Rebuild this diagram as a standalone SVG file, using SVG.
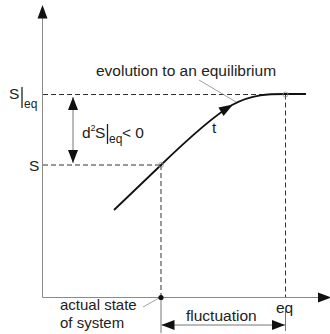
<svg xmlns="http://www.w3.org/2000/svg" width="330" height="334" viewBox="0 0 330 334">
<defs>
<style>
.axis{stroke:#8a8a8a;stroke-width:1;fill:none}
.dash{stroke:#333;stroke-width:1;stroke-dasharray:5,3;fill:none}
.thin{stroke:#888;stroke-width:0.8;fill:none}
.dim{stroke:#777;stroke-width:1;fill:none}
.head{fill:#111;stroke:none}
.curve{stroke:#111;stroke-width:1.8;fill:none}
text{font-family:"Liberation Sans",Arial,sans-serif;fill:#222}
.lbl{font-size:15.5px}
.sm{font-size:15px}
.sub{font-size:12px}
</style>
<marker id="ah" viewBox="0 0 13 10" refX="13" refY="5" markerWidth="13" markerHeight="10" markerUnits="userSpaceOnUse" orient="auto-start-reverse">
<path d="M0,0 L13,5 L0,10 z" class="head"/>
</marker>
</defs>
<g id="connectors">
<line class="axis" x1="42.5" y1="297.5" x2="42.5" y2="15"/>
<path class="head" d="M42.5,5 L37.5,18.5 L47.5,18.5 z"/>
<line class="axis" x1="42.5" y1="297.5" x2="320" y2="297.5"/>
<path class="head" d="M331,297.5 L318,292.5 L318,302.5 z"/>
<line class="dash" x1="43" y1="94.5" x2="285" y2="94.5"/>
<line class="dash" x1="43" y1="165" x2="161" y2="165"/>
<line class="dash" x1="161" y1="165" x2="161" y2="297"/>
<line class="dash" x1="285.5" y1="94.5" x2="285.5" y2="297"/>
<line class="dim" x1="73" y1="97" x2="73" y2="163" marker-start="url(#ah)" marker-end="url(#ah)"/>
<line class="dim" x1="161" y1="298" x2="161" y2="333"/>
<line class="dim" x1="285.5" y1="310" x2="285.5" y2="331"/>
<line class="dim" x1="161.5" y1="325" x2="285" y2="325" marker-start="url(#ah)" marker-end="url(#ah)"/>
<path class="curve" d="M114,210 L161,165 C190,137 212,117 232,105 C252,94 270,94 285,94 L306,94"/>
<path class="head" d="M0,0 L-14,-5 L-14,5 z" transform="translate(233,104.5) rotate(-31)"/>
<line class="thin" x1="199" y1="80" x2="236" y2="102"/>
<line class="thin" x1="143" y1="307" x2="159" y2="298"/>
<circle cx="161" cy="165" r="2.5" fill="none" stroke="#999" stroke-width="0.8"/>
<circle cx="285.5" cy="94.5" r="2.5" fill="none" stroke="#999" stroke-width="0.8"/>
<circle cx="161" cy="297.5" r="2.6" fill="#111"/>
</g>
<g id="label-Seq">
<text class="lbl" x="9" y="98.5">S</text>
<line x1="22" y1="87" x2="22" y2="108" stroke="#222" stroke-width="1.3"/>
<text class="sub" x="24" y="108">eq</text>
</g>
<g id="label-S">
<text class="lbl" x="29" y="170.5">S</text>
</g>
<g id="label-d2S">
<text class="lbl" x="82" y="138">d</text>
<text style="font-size:9px" x="90.5" y="131">2</text>
<text class="lbl" x="95" y="138">S</text>
<line x1="107.5" y1="124" x2="107.5" y2="144" stroke="#222" stroke-width="1.3"/>
<text class="sub" x="109" y="143">eq</text>
<text class="lbl" x="122" y="138">&lt; 0</text>
</g>
<g id="label-evolution">
<text class="lbl" x="96" y="76">evolution to an equilibrium</text>
</g>
<g id="label-t">
<text class="lbl" x="212" y="133">t</text>
</g>
<g id="label-actual">
<text class="sm" x="60" y="310">actual state</text>
<text class="sm" x="60" y="327.5">of system</text>
</g>
<g id="label-eq">
<text class="lbl" x="276" y="313">eq</text>
</g>
<g id="label-fluctuation">
<text class="lbl" x="186" y="321">fluctuation</text>
</g>
</svg>
